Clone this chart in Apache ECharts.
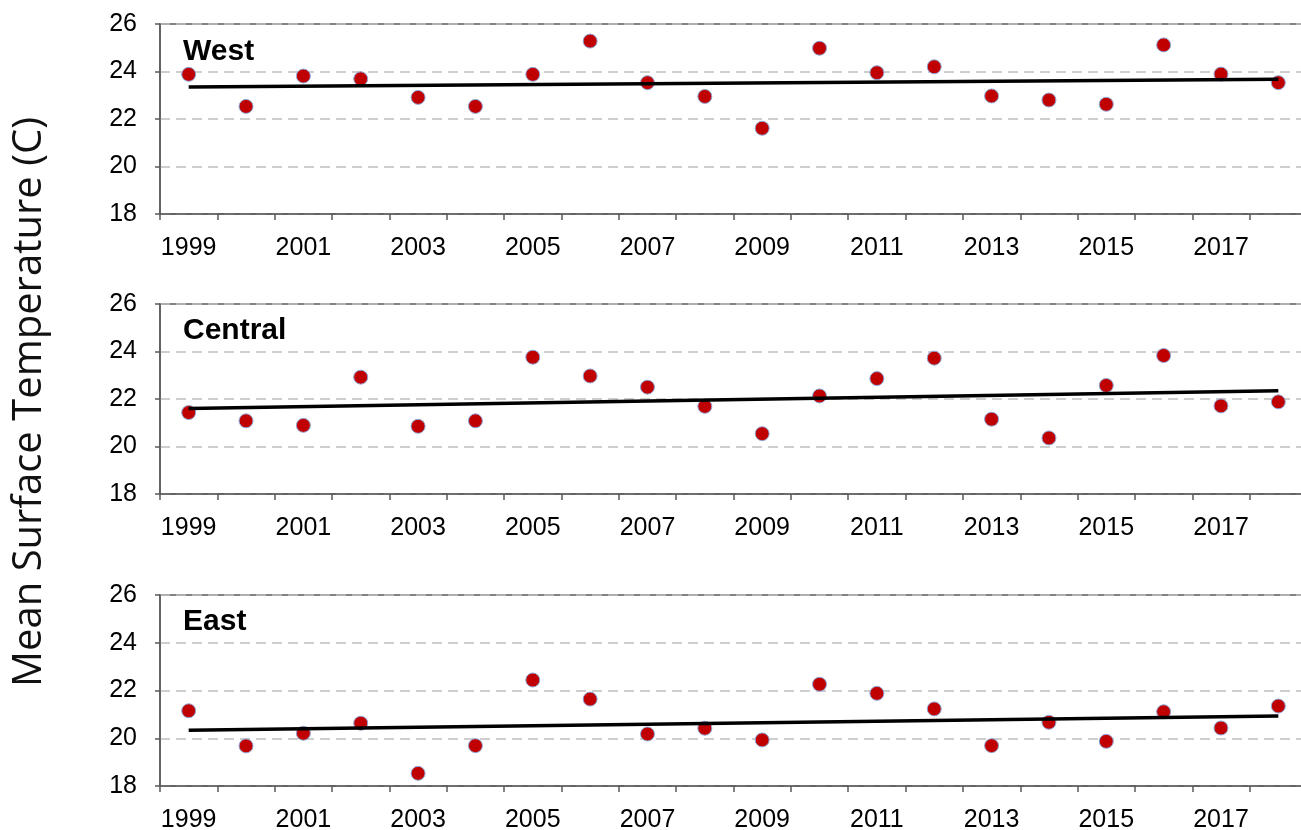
<!DOCTYPE html>
<html>
<head>
<meta charset="utf-8">
<script src="https://cdn.jsdelivr.net/npm/echarts@6/dist/echarts.min.js"></script>
<style>
  html, body { margin: 0; padding: 0; background: #fff; }
  #chart { width: 1301px; height: 830px; }
</style>
</head>
<body>
<div id="chart"></div>
<script>
// Annual mean surface temperature (°C) by region, 1999–2018
const years = ['1999','2000','2001','2002','2003','2004','2005','2006','2007','2008',
               '2009','2010','2011','2012','2013','2014','2015','2016','2017','2018'];

const westTemps    = [23.88, 22.53, 23.81, 23.69, 22.91, 22.53, 23.88, 25.28, 23.53, 22.95,
                      21.61, 24.98, 23.95, 24.20, 22.97, 22.80, 22.62, 25.12, 23.89, 23.53];
const centralTemps = [21.43, 21.08, 20.89, 22.92, 20.85, 21.08, 23.76, 22.97, 22.50, 21.69,
                      20.54, 22.13, 22.86, 23.72, 21.15, 20.36, 22.57, 23.83, 21.71, 21.88];
const eastTemps    = [21.15, 19.68, 20.21, 20.63, 18.53, 19.69, 22.44, 21.64, 20.18, 20.42,
                      19.93, 22.26, 21.88, 21.23, 19.69, 20.67, 19.87, 21.11, 20.43, 21.35];

// Linear trend, value at first and last year
const westTrend    = [23.35, 23.67];
const centralTrend = [21.60, 22.35];
const eastTrend    = [20.33, 20.93];

const regionNames = ['West', 'Central', 'East'];
const yMin = 18, yMax = 26, yStep = 2;

const panels = [
  { name: regionNames[0], temps: westTemps,    trend: westTrend,    top: 24,  height: 190, titleTop: 37 },
  { name: regionNames[1], temps: centralTemps, trend: centralTrend, top: 304, height: 190, titleTop: 316 },
  { name: regionNames[2], temps: eastTemps,    trend: eastTrend,    top: 595, height: 191, titleTop: 607 }
];

const axisGray = '#595959';
const font = "'Liberation Sans', Arial, sans-serif";

const chart = echarts.init(document.getElementById('chart'), null, { renderer: 'canvas' });

const option = {
  backgroundColor: '#ffffff',
  animation: false,
  title: panels.map(p => ({
    text: p.name,
    left: 183,
    top: p.titleTop,
    padding: 0,
    textStyle: { fontFamily: font, fontSize: 30, fontWeight: 'bold', color: '#000' }
  })),
  graphic: [{
    type: 'text',
    x: 30,
    y: 402,
    rotation: Math.PI / 2,
    style: {
      text: 'Mean Surface Temperature (C)',
      fontFamily: "'Open Sans', sans-serif",
      fontSize: 40,
      fill: '#111',
      align: 'center',
      verticalAlign: 'middle'
    }
  }],
  // plot area runs a little past the right edge of the page
  grid: panels.map(p => ({
    left: 160,
    width: 1147,
    top: p.top,
    height: p.height,
    outerBoundsMode: 'none',
    containLabel: false,
    show: true,
    borderColor: axisGray,
    borderWidth: 1.5,
    backgroundColor: 'transparent'
  })),
  xAxis: panels.map((p, i) => ({
    type: 'category',
    gridIndex: i,
    data: years,
    boundaryGap: true,
    axisLine: { lineStyle: { color: axisGray, width: 1.5 } },
    axisTick: { show: true, interval: 0, alignWithLabel: false, length: 6,
                lineStyle: { color: axisGray, width: 1.5 } },
    axisLabel: { interval: 1, margin: 22, fontFamily: font, fontSize: 25, color: '#000' },
    splitLine: { show: false }
  })),
  yAxis: panels.map((p, i) => ({
    type: 'value',
    gridIndex: i,
    min: yMin,
    max: yMax,
    interval: yStep,
    axisLine: { show: true, lineStyle: { color: axisGray, width: 1.5 } },
    axisTick: { show: true, length: 5, lineStyle: { color: axisGray, width: 1.5 } },
    axisLabel: { margin: 23, fontFamily: font, fontSize: 25, color: '#000' },
    splitLine: { show: true, lineStyle: { color: '#BFBFBF', width: 1.5, type: [10, 6] } }
  })),
  series: panels.flatMap((p, i) => [
    {
      type: 'scatter',
      name: p.name,
      xAxisIndex: i,
      yAxisIndex: i,
      data: p.temps,
      symbol: 'circle',
      symbolSize: 14,
      itemStyle: { color: '#C00000', borderColor: '#8FAADC', borderWidth: 1, opacity: 1 },
      z: 3
    },
    {
      type: 'line',
      name: p.name + ' trend',
      xAxisIndex: i,
      yAxisIndex: i,
      data: [[years[0], p.trend[0]], [years[years.length - 1], p.trend[1]]],
      symbol: 'none',
      lineStyle: { color: '#000', width: 3.5 },
      z: 4
    }
  ])
};

chart.setOption(option);
</script>
</body>
</html>
